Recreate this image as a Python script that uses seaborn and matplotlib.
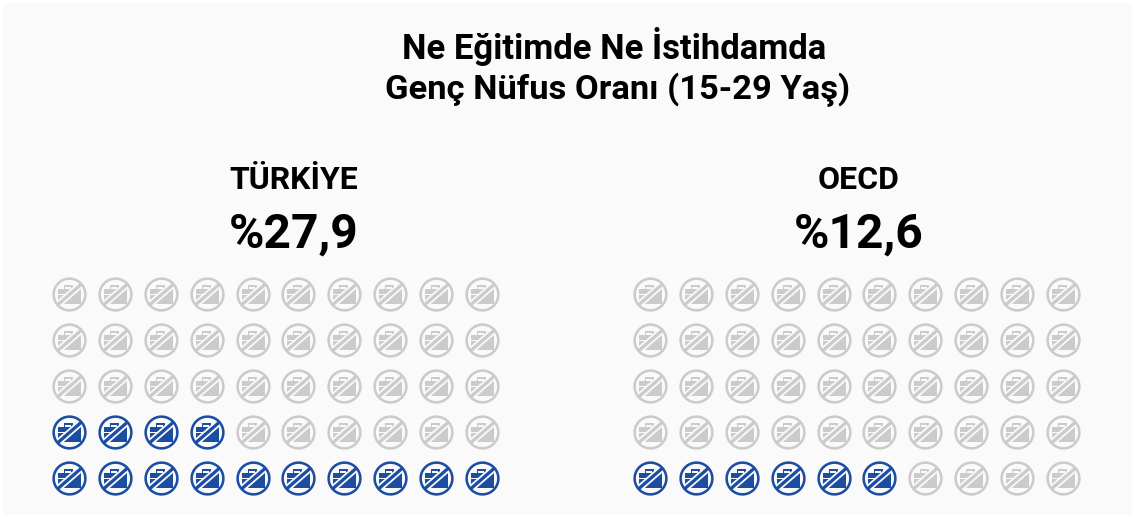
import numpy as np
import pandas as pd
import seaborn as sns
import matplotlib.pyplot as plt
from matplotlib.path import Path

# ================= DATA =================
TITLE_LINES = ["Ne Eğitimde Ne İstihdamda", "Genç Nüfus Oranı (15-29 Yaş)"]
GROUPS = ["TÜRKİYE", "OECD"]
RATES = ["%27,9", "%12,6"]
FILLED = [14, 6]  # icons coloured out of 50
N_COLS = 10
N_ROWS = 5

BLUE = "#1b4da3"
GREY = "#cbcbcb"
BG = "#fafafa"

W, H = 1132, 515


def rect(x0, y0, x1, y1):
    return [(x0, y0), (x1, y0), (x1, y1), (x0, y1), (x0, y0)]


def poly_path(polys):
    verts, codes = [], []
    for p in polys:
        verts += p
        codes += [Path.MOVETO] + [Path.LINETO] * (len(p) - 2) + [Path.CLOSEPOLY]
    return Path(verts, codes)


def circle_points(r, n=72, reverse=False):
    t = np.linspace(0, 2 * np.pi, n, endpoint=False)
    if reverse:
        t = t[::-1]
    pts = [(r * np.cos(a), r * np.sin(a)) for a in t]
    return pts + [pts[0]]


def slash(half):
    # diagonal band, lower left to upper right, ends hidden under the ring
    a = np.radians(41)
    d = np.array([np.cos(a), np.sin(a)])
    n = np.array([-d[1], d[0]])
    e = 0.93
    pts = [-e * d - half * n, e * d - half * n, e * d + half * n, -e * d + half * n]
    pts = [tuple(p) for p in pts]
    return pts + [pts[0]]


# tiny corner squares keep every marker path on the same scale as the ring
CORNERS = [rect(-1.0, -1.0, -0.999, -0.999), rect(0.999, 0.999, 1.0, 1.0)]
RING = poly_path([circle_points(1.0), circle_points(0.85, reverse=True)])
CASE = poly_path([
    rect(-0.63, -0.56, 0.70, -0.08),
    rect(-0.63, -0.02, 0.70, 0.32),
    # divider only shows left of the slash
    rect(0.0, -0.10, 0.70, 0.0),
    # handle
    [(-0.32, 0.32), (-0.32, 0.52), (0.22, 0.52), (0.22, 0.32), (0.12, 0.32),
     (0.12, 0.43), (-0.22, 0.43), (-0.22, 0.32), (-0.32, 0.32)],
] + CORNERS)
GAP = poly_path([slash(0.20)] + CORNERS)
BAND = poly_path([slash(0.095)] + CORNERS)

sns.set_theme(style="white")
plt.rcParams['font.family'] = ['Roboto', 'DejaVu Sans']

fig = plt.figure(figsize=(W / 100, H / 100), dpi=100, facecolor="white")

# light panel behind everything
bg = fig.add_axes([0, 0, 1, 1])
bg.set_xlim(0, W)
bg.set_ylim(H, 0)
bg.axis("off")
bg.fill_between([3, W], 3, H, color=BG, linewidth=0)

bg.text(614, 47, TITLE_LINES[0], ha="center", va="center", fontsize=24.9, fontweight="bold", color="#000000")
bg.text(618, 90, TITLE_LINES[1], ha="center", va="center", fontsize=24.8, fontweight="bold", color="#000000")

# pixel boxes of the two icon grids (cell edges)
boxes = [(46, 505), (627, 1086)]
top, bottom = 271, 501
label_x = [294, 858.5]

for group, rate, filled, (x0, x1), lx in zip(GROUPS, RATES, FILLED, boxes, label_x):
    bg.text(lx, 180, group, ha="center", va="center", fontsize=23, fontweight="bold", color="#000000")
    bg.text(lx, 235, rate, ha="center", va="center", fontsize=34.6, fontweight="bold", color="#000000")

    # row 0 at the bottom, fill left to right from the bottom row upwards
    df = pd.DataFrame({
        "col": np.tile(np.arange(N_COLS), N_ROWS),
        "row": np.repeat(np.arange(N_ROWS), N_COLS),
    })
    df["on"] = np.arange(len(df)) < filled

    ax = fig.add_axes([x0 / W, 1 - bottom / H, (x1 - x0) / W, (bottom - top) / H])
    ax.patch.set_alpha(0)
    for on, color in [(False, GREY), (True, BLUE)]:
        part = df[df["on"] == on]
        for marker, c in [(CASE, color), (GAP, BG), (BAND, color), (RING, color)]:
            sns.scatterplot(data=part, x="col", y="row", marker=marker, s=610, color=c,
                            linewidth=0, legend=False, ax=ax)
    ax.set_xlim(-0.5, N_COLS - 0.5)
    ax.set_ylim(-0.5, N_ROWS - 0.5)
    ax.axis("off")

fig.savefig("out.png", dpi=100, facecolor="white")
